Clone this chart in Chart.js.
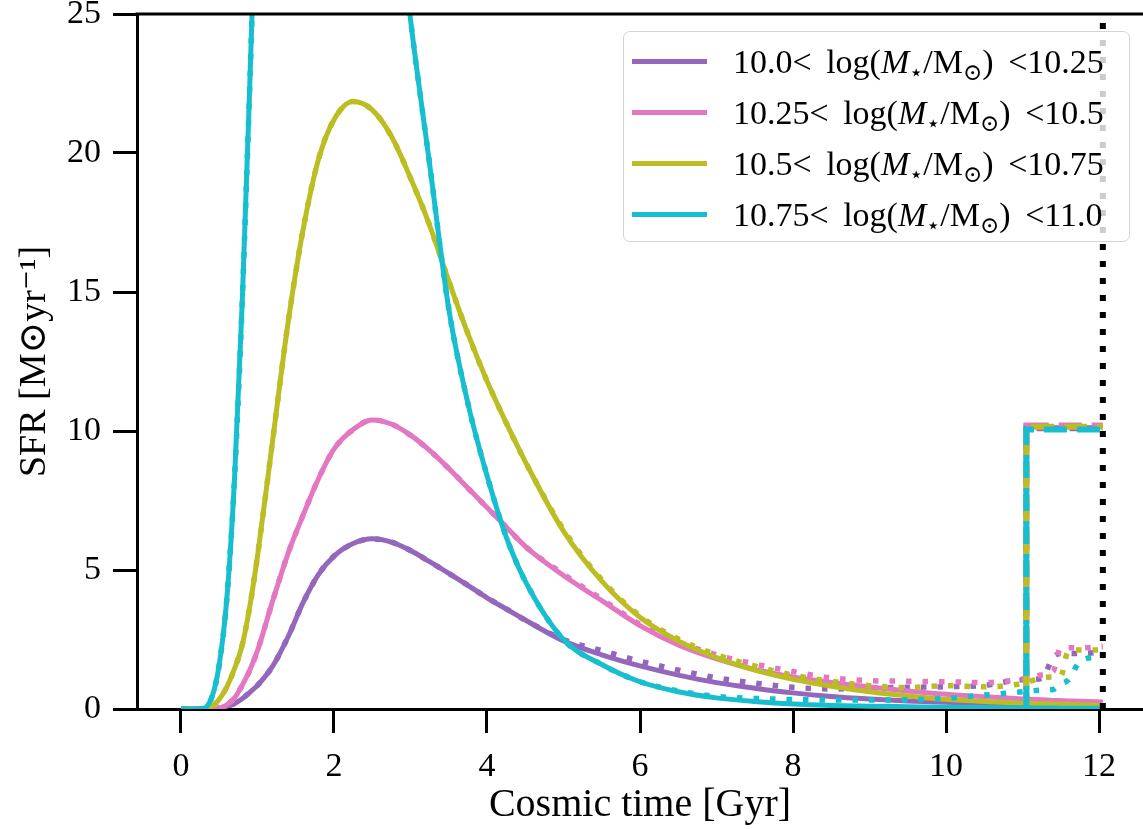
<!DOCTYPE html>
<html>
<head>
<meta charset="utf-8">
<script src="https://cdn.jsdelivr.net/npm/chart.js@4/dist/chart.umd.min.js"></script>
<style>
  html, body { margin: 0; padding: 0; background: #fff; overflow: hidden; }
  #wrap { position: relative; width: 1143px; height: 829px; }
  #legend {
    position: absolute; left: 623px; top: 31px; width: 507px; height: 211px;
    box-sizing: border-box; padding-top: 4px;
    border: 1.5px solid #d3d3d3; border-radius: 7px;
    background: rgba(255, 255, 255, 0.8);
    font-family: 'Liberation Serif', 'DejaVu Serif', serif; font-size: 34px; word-spacing: 6px; color: #000;
  }
  .row { display: flex; align-items: center; height: 51px; white-space: nowrap; }
  .swatch { width: 75px; height: 5px; margin-left: 8px; margin-right: 26px; flex: none; }
  .row sub { font-size: 0.68em; vertical-align: -0.3em; line-height: 0; }
</style>
</head>
<body>
<div id="wrap">
  <canvas id="chart-sfr" width="1143" height="829"></canvas>
  <div id="legend"></div>
</div>
<script>
// mass bins (log M*/Msun)
const binEdges = ['10.0', '10.25', '10.5', '10.75', '11.0'];
const binColors = ['#9467bd', '#e377c2', '#bcbd22', '#17becf'];

// cosmic time grid [Gyr]
const time = [0, 0.25, 0.4, 0.5, 0.6, 0.7, 0.8, 0.9, 1.0, 1.2, 1.4, 1.6, 1.8, 2.0, 2.25, 2.5, 2.75,
  3.0, 3.25, 3.5, 3.75, 4.0, 4.25, 4.5, 5.0, 5.5, 6.0, 6.5, 7.0, 7.5, 8.0, 8.5, 9.0, 9.5, 10.0,
  10.5, 11.0, 11.25, 11.4, 11.5, 11.6, 11.75, 12.05];

// solid curves (SFR, Msun/yr)
const sfrBin1 = [0, 0, 0, 0.03, 0.1, 0.2, 0.37, 0.6, 0.85, 1.55, 2.6, 3.85, 4.85, 5.5, 5.95, 6.12, 6.0,
  5.7, 5.3, 4.88, 4.45, 4.0, 3.6, 3.2, 2.45, 1.95, 1.55, 1.22, 0.95, 0.75, 0.58, 0.45, 0.36, 0.29, 0.24,
  0.2, 0.17, 0.16, 0.15, 0.15, 0.14, 0.14, 0.12];
const sfrBin2 = [0, 0, 0, 0.03, 0.15, 0.4, 0.85, 1.4, 2.1, 3.9, 5.6, 7.0, 8.3, 9.35, 10.05, 10.4, 10.25,
  9.85, 9.3, 8.65, 7.95, 7.25, 6.55, 5.85, 4.8, 3.9, 3.0, 2.3, 1.8, 1.42, 1.15, 0.95, 0.79, 0.65, 0.53,
  0.44, 0.36, 0.33, 0.31, 0.3, 0.29, 0.28, 0.25];
const sfrBin3 = [0, 0, 0.08, 0.35, 0.8, 1.45, 2.3, 3.7, 5.5, 9.7, 13.9, 17.3, 19.8, 21.2, 21.85, 21.55, 20.6,
  19.1, 17.4, 15.4, 13.5, 11.8, 10.3, 8.9, 6.4, 4.6, 3.3, 2.45, 1.85, 1.4, 1.07, 0.82, 0.62, 0.47, 0.35,
  0.27, 0.21, 0.19, 0.18, 0.17, 0.16, 0.15, 0.13];
const sfrBin4 = [0, 0, 0.4, 1.6, 4.0, 8.3, 14.6, 22.5, 31, 42, 48, 51, 51.5, 50, 45, 38, 31,
  24.8, 19.6, 14.4, 11.0, 8.4, 6.2, 4.6, 2.5, 1.6, 0.98, 0.62, 0.4, 0.27, 0.18, 0.13, 0.1, 0.08, 0.06,
  0.05, 0.04, 0.04, 0.04, 0.03, 0.03, 0.03, 0.03];

// dotted curves
const dotBin1 = [0, 0, 0, 0.03, 0.1, 0.2, 0.37, 0.6, 0.85, 1.55, 2.6, 3.85, 4.85, 5.5, 5.95, 6.12, 6.0,
  5.7, 5.3, 4.88, 4.45, 4.0, 3.6, 3.2, 2.5, 2.1, 1.72, 1.4, 1.12, 0.93, 0.78, 0.72, 0.75, 0.78, 0.8,
  0.85, 1.05, 1.1, 1.85, 2.0, 2.0, 2.0, 2.05];
const dotBin2 = [0, 0, 0, 0.03, 0.15, 0.4, 0.85, 1.4, 2.1, 3.9, 5.6, 7.0, 8.3, 9.35, 10.05, 10.4, 10.25,
  9.85, 9.3, 8.65, 7.95, 7.25, 6.55, 5.85, 4.85, 3.95, 3.05, 2.42, 1.95, 1.62, 1.35, 1.12, 1.02, 1.0, 0.98,
  0.95, 1.08, 1.22, 1.35, 2.2, 2.2, 2.2, 2.25];
const dotBin3 = [0, 0, 0.08, 0.35, 0.8, 1.45, 2.3, 3.7, 5.5, 9.7, 13.9, 17.3, 19.8, 21.2, 21.85, 21.55, 20.6,
  19.1, 17.4, 15.4, 13.5, 11.8, 10.3, 8.9, 6.45, 4.65, 3.35, 2.52, 1.95, 1.55, 1.22, 1.0, 0.84, 0.77, 0.84,
  0.8, 0.92, 1.12, 1.15, 1.18, 2.1, 2.12, 2.12];
const dotBin4 = [0, 0, 0.4, 1.6, 4.0, 8.3, 14.6, 22.5, 31, 42, 48, 51, 51.5, 50, 45, 38, 31,
  24.8, 19.6, 14.4, 11.0, 8.4, 6.2, 4.6, 2.5, 1.6, 0.98, 0.65, 0.45, 0.38, 0.34, 0.32, 0.32, 0.33, 0.38,
  0.5, 0.62, 0.68, 0.7, 0.9, 1.05, 1.7, 1.9];

// dashed step curves
const stepTime = [11.05, 11.05, 12.05];
const stepBin1 = [0, 10.1, 10.1];
const stepBin2 = [0, 10.2, 10.2];
const stepBin3 = [0, 10.15, 10.15];
const stepBin4 = [0, 10.05, 10.05];

// vertical dotted marker
const markTime = [12.05, 12.05];
const markValue = [0, 25];

// axes
const xTickValues = [0, 2, 4, 6, 8, 10, 12];
const yTickValues = [0, 5, 10, 15, 20, 25];

const solid = [sfrBin1, sfrBin2, sfrBin3, sfrBin4];
const dotted = [dotBin1, dotBin2, dotBin3, dotBin4];
const stepped = [stepBin1, stepBin2, stepBin3, stepBin4];
const dashOffsets = [6, 14, 10, 0];

const toXY = (xs, ys) => xs.map((x, i) => ({ x: x, y: ys[i] }));

const datasets = [];
solid.forEach((vals, i) => {
    datasets.push({
        data: toXY(time, vals),
        borderColor: binColors[i],
        borderWidth: 5,
        cubicInterpolationMode: 'monotone',
        legendText: `${binEdges[i]}&lt; log(<i>M</i><sub>⋆</sub>/M<sub>⊙</sub>) &lt;${binEdges[i + 1]}`
    });
    datasets.push({
        data: toXY(time, dotted[i]),
        borderColor: binColors[i],
        borderWidth: 5.5,
        borderDash: [5.5, 11],
        cubicInterpolationMode: 'monotone'
    });
    datasets.push({
        data: toXY(stepTime, stepped[i]),
        borderColor: binColors[i],
        borderWidth: 6,
        borderDash: [23, 10],
        borderDashOffset: dashOffsets[i]
    });
});
datasets.push({
    data: toXY(markTime, markValue),
    borderColor: '#000',
    borderWidth: 6,
    borderDash: [6, 11]
});
// later datasets on top
datasets.forEach((d, i) => { d.order = -i; d.pointRadius = 0; d.fill = false; });

const serif = "'Liberation Serif', 'DejaVu Serif', serif";

// top spine of the frame
const framePlugin = {
    id: 'frame',
    afterDatasetsDraw(chart) {
        const { ctx, chartArea } = chart;
        ctx.save();
        ctx.strokeStyle = '#000';
        ctx.lineWidth = 3;
        ctx.beginPath();
        ctx.moveTo(chartArea.left - 1.5, chartArea.top);
        ctx.lineTo(chartArea.right, chartArea.top);
        ctx.stroke();
        ctx.restore();
    }
};

const ctx = document.getElementById('chart-sfr').getContext('2d');
const chart = new Chart(ctx, {
    type: 'line',
    data: { datasets },
    options: {
        responsive: false,
        animation: false,
        devicePixelRatio: 1,
        layout: { padding: { top: 14, right: 0, left: 0, bottom: 0 } },
        plugins: { legend: { display: false }, tooltip: { enabled: false } },
        scales: {
            x: {
                type: 'linear',
                min: -0.575,
                max: 12.575,
                afterBuildTicks: s => { s.ticks = xTickValues.map(v => ({ value: v })); },
                afterFit: s => { s.height = 120; s.paddingLeft = 0; s.paddingRight = 0; },
                grid: { drawOnChartArea: false, tickLength: 24, tickWidth: 3, tickColor: '#000' },
                border: { color: '#000', width: 3 },
                ticks: { color: '#000', font: { family: serif, size: 34 }, padding: 14, maxRotation: 0 },
                title: { display: true, text: 'Cosmic time [Gyr]', color: '#000',
                         font: { family: serif, size: 40, lineHeight: 1 }, padding: { top: 4, bottom: 4 } }
            },
            y: {
                min: 0,
                max: 25,
                afterBuildTicks: s => { s.ticks = yTickValues.map(v => ({ value: v })); },
                afterFit: s => { s.width = 137; s.paddingTop = 0; s.paddingBottom = 0; },
                grid: { drawOnChartArea: false, tickLength: 24, tickWidth: 3, tickColor: '#000' },
                border: { color: '#000', width: 3 },
                ticks: { color: '#000', font: { family: serif, size: 34 }, padding: 12 },
                title: { display: true, text: 'SFR [M⊙yr⁻¹]', color: '#000',
                         font: { family: serif, size: 38, lineHeight: 1 }, padding: { top: 16, bottom: 0 } }
            }
        }
    },
    plugins: [framePlugin]
});

// legend built from the solid datasets
const legendEl = document.getElementById('legend');
chart.data.datasets.filter(d => d.legendText).forEach(d => {
    const row = document.createElement('div');
    row.className = 'row';
    row.innerHTML = `<span class="swatch" style="background:${d.borderColor}"></span><span>${d.legendText}</span>`;
    legendEl.appendChild(row);
});
</script>
</body>
</html>
